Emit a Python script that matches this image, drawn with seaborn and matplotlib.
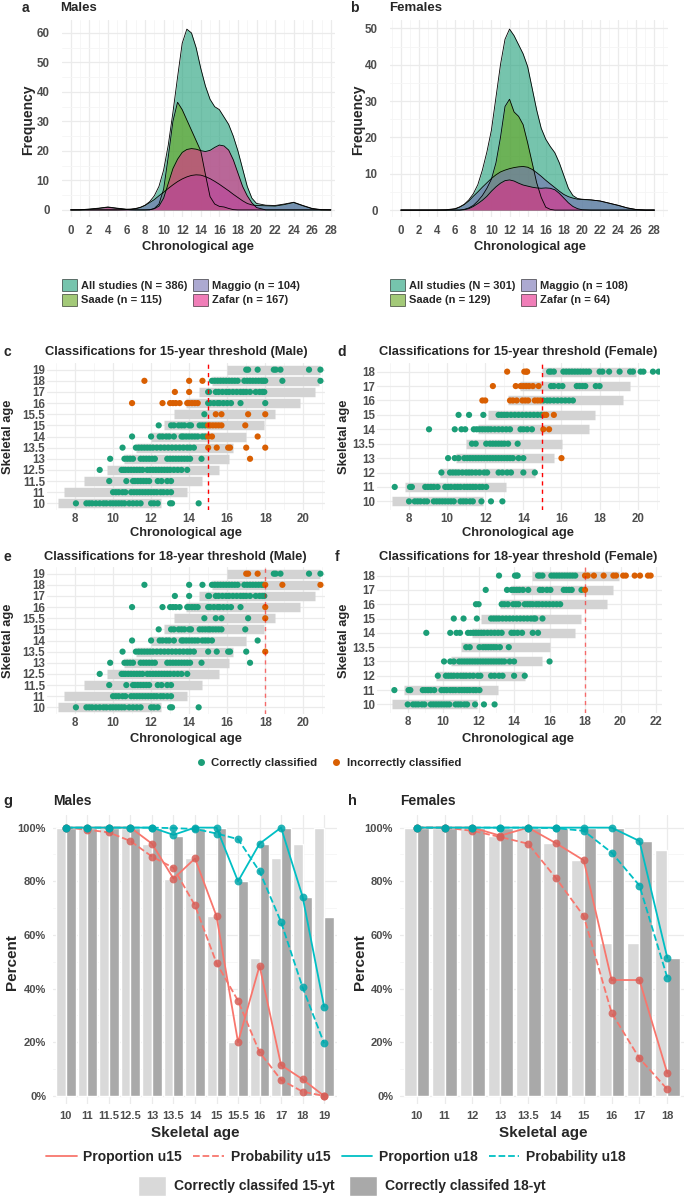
import numpy as np
import pandas as pd
import seaborn as sns
from matplotlib import pyplot as plt
from matplotlib.lines import Line2D
from matplotlib.patches import Patch
from matplotlib.ticker import MultipleLocator

age_grid = [0, 1, 2, 3, 4, 5, 6,
            6.5, 7, 7.5, 8, 8.5, 9, 9.5, 10, 10.5, 11, 11.5, 12, 12.5, 13, 13.5,
            14, 14.5, 15, 15.5, 16, 16.5, 17, 17.5, 18, 18.5, 19, 19.5, 20,
            21, 22, 23, 24, 25, 26, 27, 28]

male_all = [0, 0.05, 0.3, 0.6, 1.0, 0.6, 0.25,
            0.3, 0.5, 0.9, 1.6, 2.8, 4.8, 8, 13.5, 22, 33, 45, 56.5, 61.3, 60, 55,
            48, 42, 37.5, 35, 34, 31.5, 29, 25, 20, 14, 8, 4, 2.2,
            1.6, 1.5, 2, 2.6, 1.5, 0.5, 0.1, 0]
male_maggio = [0, 0, 0, 0, 0, 0, 0.1,
               0.2, 0.4, 0.8, 1.5, 2.5, 3.5, 4.8, 6, 7.3, 8.5, 9.6, 10.5, 11.2, 11.7, 11.9,
               11.8, 11.3, 10.6, 9.7, 8.7, 7.6, 6.5, 5.3, 4.2, 3.1, 2.2, 1.7, 1.5,
               1.4, 1.3, 1.8, 2.5, 1.4, 0.4, 0, 0]
male_saade = [0, 0, 0, 0, 0, 0, 0,
              0, 0, 0, 0, 0, 0.5, 2, 7, 18, 30, 36.5, 34, 30.5, 27, 23.5,
              20, 12, 4.5, 2, 1.2, 1, 0.5, 0.1, 0, 0, 0, 0, 0,
              0, 0, 0, 0, 0, 0, 0, 0]
male_zafar = [0, 0, 0.2, 0.5, 0.9, 0.5, 0.15,
              0.05, 0, 0, 0, 0.1, 0.4, 1.3, 4, 9, 14, 17.2, 19.5, 20.5, 20.8, 20.6,
              20.1, 19.8, 20.2, 21.2, 22, 21.7, 20.3, 17, 12.5, 8, 4.8, 2.4, 0.8,
              0, 0, 0, 0, 0, 0, 0, 0]

female_all = [0, 0, 0, 0, 0.02, 0.1, 0.4,
              0.9, 1.6, 2.8, 4.5, 7, 11, 16, 22, 31, 40, 47, 49.8, 48, 45.5, 43,
              39.5, 33.5, 27.5, 22.5, 19.5, 17.5, 15.8, 13, 9.5, 6, 4, 3.2, 3,
              2.8, 2.5, 1.9, 1.3, 0.6, 0.15, 0, 0]
female_maggio = [0, 0, 0, 0, 0, 0, 0.3,
                 0.8, 1.5, 2.5, 3.8, 5, 6.3, 7.5, 8.7, 9.7, 10.5, 11, 11.4, 11.7, 11.9, 12,
                 11.8, 11.2, 10.3, 9.3, 8.2, 7.2, 6.2, 5.2, 4.3, 3.7, 3.3, 3, 2.9,
                 2.8, 2.5, 1.9, 1.3, 0.6, 0.15, 0, 0]
female_saade = [0, 0, 0, 0, 0, 0, 0,
                0, 0.2, 0.6, 1.3, 2.5, 4, 6, 8.5, 13, 20, 28.5, 30.5, 27, 25.8, 23.5,
                18.5, 13, 7.5, 3.5, 0.8, 0.2, 0, 0, 0, 0, 0, 0, 0,
                0, 0, 0, 0, 0, 0, 0, 0]
female_zafar = [0, 0, 0, 0, 0, 0, 0,
                0, 0.1, 0.4, 1, 1.8, 2.7, 3.8, 5.2, 6.4, 7.4, 8.1, 8.3, 8, 7.4, 6.9,
                6.6, 6.3, 6.1, 6, 6.1, 6, 5.6, 4.6, 3.3, 2, 1, 0.4, 0.1,
                0, 0, 0, 0, 0, 0, 0, 0]

male_legend = ["All studies (N = 386)", "Saade (n = 115)", "Maggio (n = 104)", "Zafar (n = 167)"]
female_legend = ["All studies (N = 301)", "Saade (n = 129)", "Maggio (n = 108)", "Zafar (n = 64)"]

# ---------------- individual classifications (chronological age per skeletal age) ----------------
male_skeletal = ["10", "11", "11.5", "12.5", "13", "13.5", "14", "15", "15.5", "16", "17", "18", "19"]
m10 = [8.05, 8.6, 8.75, 8.9, 9.1, 9.3, 9.5, 9.65, 9.85, 10.0, 10.15, 10.3, 10.45, 10.6, 10.85,
       11.05, 11.25, 11.45, 12.0, 12.15, 12.35, 13.0, 13.1, 14.5]
m11 = [10.0, 10.15, 10.3, 10.5, 10.65, 10.95, 11.1, 11.25, 11.4, 11.55, 11.7, 11.85, 12.0,
       12.15, 12.3, 12.5, 12.65, 12.85, 13.05]
m11_5 = [9.8, 10.7, 11.05, 11.15, 11.3, 11.45, 11.6, 11.75, 11.9, 12.35, 12.55, 12.85, 13.05]
m12_5 = [9.3, 10.45, 10.55, 10.65, 10.8, 10.95, 11.1, 11.25, 11.4, 11.55, 11.8, 11.95, 12.1,
         12.25, 12.4, 12.55, 12.7, 12.85, 13.0, 13.2, 13.4, 13.6, 13.9]
m13 = [9.85, 10.6, 10.75, 10.9, 11.05, 11.45, 11.6, 11.75, 11.9, 12.05, 12.2, 12.85, 13.0,
       13.15, 13.3, 13.45, 13.6, 13.75, 13.9, 14.05, 14.65, 17.2]
m13_5 = [10.5, 11.2, 11.35, 11.5, 11.65, 11.8, 11.95, 12.1, 12.3, 12.5, 12.7, 12.9, 13.1,
         13.3, 13.5, 13.7, 13.9, 14.05, 14.25, 15.0, 15.45, 16.05, 16.15, 17.0, 18.0]
m14 = [11.0, 12.0, 12.45, 12.6, 12.8, 12.95, 13.2, 13.6, 13.7, 13.85, 14.0, 14.15, 14.3,
       14.45, 14.7, 14.85, 15.0, 15.2, 17.6]
m15 = [12.4, 13.05, 13.2, 13.45, 13.6, 13.75, 14.0, 14.1, 14.55, 14.7, 14.85, 15.0, 15.1,
       15.25, 15.4, 15.55, 15.7, 16.95]
m15_5 = [14.8, 15.4, 15.7, 17.1, 18.0]
m16 = [11.0, 12.6, 13.0, 13.15, 13.3, 13.5, 13.9, 14.0, 14.15, 14.3, 14.45, 15.0, 15.1, 15.3,
       15.5, 15.6, 15.8, 16.0, 16.2, 16.7, 18.0]
m17 = [13.25, 14.0, 15.0, 15.05, 15.4, 15.55, 15.75, 15.95, 16.1, 16.3, 16.5, 16.7, 16.85,
       17.0, 17.2, 17.5, 17.7, 17.85, 17.95]
m18 = [11.65, 14.0, 14.7, 15.2, 15.35, 15.5, 15.65, 15.8, 15.95, 16.1, 16.25, 16.4, 16.55,
       16.9, 17.05, 17.2, 17.35, 17.5, 17.65, 17.8, 17.9, 18.0, 18.9, 20.9]
m19 = [17.0, 17.1, 17.6, 18.45, 18.55, 18.8, 20.3, 20.9]
male_rows = [m10, m11, m11_5, m12_5, m13, m13_5, m14, m15, m15_5, m16, m17, m18, m19]
male_range_lo = [7.1, 7.4, 8.5, 9.7, 10.6, 11.2, 12.0, 12.7, 13.2, 13.85, 14.5, 15.2, 16.0]
male_range_hi = [12.5, 13.9, 14.65, 15.55, 16.1, 16.3, 17.0, 17.95, 18.5, 19.85, 20.6, 20.85, 20.9]

female_skeletal = ["10", "11", "12", "13", "13.5", "14", "15", "16", "17", "18"]
f10 = [8.0, 8.3, 8.45, 8.6, 8.8, 8.95, 9.3, 9.45, 9.6, 9.75, 9.9, 10.05, 10.2, 10.35, 10.7,
       10.85, 11.0, 11.2, 11.35, 11.8, 12.3, 12.9]
f11 = [7.25, 8.05, 8.15, 8.85, 9.0, 9.15, 9.3, 9.5, 9.9, 10.05, 10.2, 10.4, 10.55, 10.7, 10.9,
       11.05, 11.2, 11.35, 11.5, 11.7, 11.85, 12.05]
f12 = [9.7, 10.15, 10.3, 10.45, 10.6, 10.8, 11.0, 11.15, 11.3, 11.5, 11.7, 11.95, 12.1, 12.7,
       12.9, 13.15, 13.35, 14.0, 14.6]
f13 = [10.05, 10.4, 10.6, 10.9, 11.05, 11.2, 11.35, 11.5, 11.65, 11.8, 11.95, 12.1, 12.25,
       12.4, 12.55, 12.7, 12.85, 13.0, 13.15, 13.3, 13.45, 13.75, 14.0, 16.0]
f13_5 = [11.3, 11.5, 12.05, 12.25, 12.4, 12.55, 12.7, 12.85, 13.0, 13.2, 13.7]
f14 = [9.05, 10.4, 10.75, 10.95, 11.4, 11.55, 11.7, 11.85, 12.0, 12.15, 12.3, 12.5, 12.7,
       12.9, 13.1, 13.3, 13.85, 14.0, 14.2, 14.45, 15.05, 15.35]
f15 = [10.6, 11.15, 11.9, 12.7, 12.85, 13.0, 13.15, 13.35, 13.55, 13.75, 13.95, 14.15, 14.35,
       14.55, 14.75, 14.95, 15.1, 15.2, 15.6]
f16 = [11.85, 12.0, 13.3, 13.45, 13.65, 13.95, 14.1, 14.25, 14.6, 14.75, 14.9, 15.05, 15.25,
       15.4, 15.6, 15.8, 16.0, 16.2, 16.4, 16.6]
f17 = [12.4, 13.6, 13.85, 14.0, 14.15, 14.3, 14.5, 14.8, 15.45, 15.6, 15.85, 16.05, 16.8,
       16.95, 17.1, 17.25, 17.8, 18.0]
f18 = [13.15, 14.05, 14.15, 14.2, 15.35, 15.45, 15.6, 16.1, 16.25, 16.4, 16.55, 16.7, 16.85,
       17.0, 17.15, 17.3, 17.45, 18.0, 18.15, 18.5, 19.05, 19.6, 19.75, 20.15, 20.3, 20.8,
       21.1, 21.55, 21.7]
female_rows = [f10, f11, f12, f13, f13_5, f14, f15, f16, f17, f18]
female_range_lo = [7.1, 7.8, 9.6, 10.45, 11.0, 11.6, 12.15, 13.2, 13.8, 15.0]
female_range_hi = [11.9, 13.1, 14.6, 15.6, 16.05, 17.45, 17.75, 19.25, 19.6, 19.9]

# ---------------- percentages per skeletal age (panels g/h) ----------------
g_correct15 = [100, 100, 100, 100, 94, 81, 88.5, 67, 20, 51.5, 88.5, 94, 100]
g_correct18 = [100, 100, 100, 100, 100, 97, 100, 100, 80, 94, 100, 74.3, 66.7]
g_prop_u15 = [100, 100, 100, 100, 94, 81, 88.5, 67, 20, 48.5, 11.5, 6.2, 0]
g_prob_u15 = [100, 99.2, 98.2, 95, 89.2, 85, 71, 49.5, 35.5, 16.3, 6, 1.6, 0]
g_prop_u18 = [100, 100, 100, 100, 100, 97.3, 100, 100, 80, 94, 100, 74.3, 33.3]
g_prob_u18 = [100, 100, 100, 100, 100, 99.8, 99.5, 97.8, 95.7, 83.7, 64.8, 40.5, 19.6]

h_correct15 = [100, 100, 100, 97, 100, 94.2, 87.9, 57, 57, 91.5]
h_correct18 = [100, 100, 100, 100, 100, 100, 100, 100, 95, 51.5]
h_prop_u15 = [100, 100, 100, 97, 100, 94.2, 87.8, 43.2, 43.2, 8.5]
h_prob_u15 = [100, 100, 98.8, 96.5, 94, 81.2, 67, 31, 14, 2.5]
h_prop_u18 = [100, 100, 100, 100, 100, 100, 100, 100, 95, 51.5]
h_prob_u18 = [100, 100, 100, 100, 100, 99.8, 98.8, 90.7, 78.4, 44.1]

# ---------------- style ----------------
DENS_COLORS = ["#1B9E77", "#66A61E", "#7570B3", "#E7298A"]  # all, saade, maggio, zafar
OK_COL, BAD_COL = "#1B9E77", "#D95F02"
LIGHT, DARK = "#D9D9D9", "#A9A9A9"
RED, TEAL = "#F8766D", "#00BFC4"
RED_PT, TEAL_PT = "#D65F58", "#00A7AB"
TICK_COL = "#4D4D4D"
GRID_MAJ, GRID_MIN = "#EBEBEB", "#F5F5F5"

sns.set_theme(style="white")
plt.rcParams["font.family"] = ["Liberation Sans", "DejaVu Sans"]
plt.rcParams["font.weight"] = "bold"
plt.rcParams["axes.labelweight"] = "bold"

W, H = 685, 1201
fig = plt.figure(figsize=(W / 100, H / 100), dpi=100)


def px_axes(l, t, r, b):
    return fig.add_axes([l / W, 1 - b / H, (r - l) / W, (b - t) / H])


def ftext(x, y, s, **kw):
    kw.setdefault("fontweight", "bold")
    fig.text(x / W, 1 - y / H, s, **kw)


def style_axes(ax, labelsize, xpad, ypad):
    sns.despine(ax=ax, left=True, bottom=True)
    ax.set_axisbelow(True)
    ax.grid(True, which="major", color=GRID_MAJ, lw=0.9)
    ax.grid(True, which="minor", color=GRID_MIN, lw=0.6)
    ax.tick_params(which="both", length=0, labelsize=labelsize, labelcolor=TICK_COL)
    ax.tick_params(axis="x", pad=xpad)
    ax.tick_params(axis="y", pad=ypad)
    ax.set(xlabel="", ylabel="")


# ---------------- a / b: densities ----------------
def density_panel(ax, curves, labels, xlim, ylim, ymax):
    for vals, color in zip(curves, DENS_COLORS):
        ax.fill_between(age_grid, vals, color=color, alpha=0.6, lw=0, zorder=2)
    for vals in curves:
        sns.lineplot(x=age_grid, y=vals, color="black", lw=0.6, ax=ax, zorder=3)
    ax.set_xlim(xlim)
    ax.set_ylim(ylim)
    ax.set_xticks(range(0, 29, 2))
    ax.xaxis.set_minor_locator(MultipleLocator(1))
    ax.set_yticks(range(0, ymax + 1, 10))
    ax.yaxis.set_minor_locator(MultipleLocator(5))
    style_axes(ax, 8.3, 6, 9)
    handles = [Patch(facecolor=c, alpha=0.6, edgecolor="black", lw=0.6) for c in DENS_COLORS]
    ax.legend(handles, labels, ncol=2, loc="upper left", bbox_to_anchor=(-0.035, -0.265),
              frameon=False, fontsize=8, handlelength=1.3, handleheight=1.3,
              columnspacing=0.5, handletextpad=0.4, labelspacing=0.2)


ax_a = px_axes(62, 20, 335, 217)
density_panel(ax_a, [male_all, male_saade, male_maggio, male_zafar], male_legend,
              (-0.94, 28.45), (-2.4, 64.4), 60)
ax_b = px_axes(390, 20, 668, 217)
density_panel(ax_b, [female_all, female_saade, female_maggio, female_zafar], female_legend,
              (-1.2, 29.5), (-1.9, 52.3), 50)

ftext(22, 8, "a", fontsize=10, va="center")
ftext(60, 8, "Males", fontsize=9.5, va="center")
ftext(350, 8, "b", fontsize=10, va="center")
ftext(389, 8, "Females", fontsize=9.5, va="center")
ftext(28, 120, "Frequency", fontsize=10, rotation=90, ha="center", va="center")
ftext(358, 120, "Frequency", fontsize=10, rotation=90, ha="center", va="center")
ftext(198, 247, "Chronological age", fontsize=9.3, ha="center", va="center")
ftext(530, 247, "Chronological age", fontsize=9.3, ha="center", va="center")


# ---------------- c-f: classifications ----------------
def rows_frame(skeletal, rows):
    recs = []
    for i, (lab, chron) in enumerate(zip(skeletal, rows)):
        for c in chron:
            recs.append({"row": i, "skeletal": float(lab), "chron": c})
    return pd.DataFrame(recs)


male_df = rows_frame(male_skeletal, male_rows)
female_df = rows_frame(female_skeletal, female_rows)


def scatter_panel(ax, df, labels, lo, hi, thr, cut, xlim, xmax, line_alpha):
    n = len(labels)
    ax.hlines(range(n), lo, hi, color="#D3D3D3", lw=6.8, capstyle="butt", zorder=1)
    under = df["chron"] < thr
    pred_under = df["skeletal"] < cut
    d = df.assign(status=np.where(under == pred_under, "Correctly classified",
                                  "Incorrectly classified"))
    d = d.sort_values("status", kind="stable")
    sns.scatterplot(data=d, x="chron", y="row", hue="status",
                    hue_order=["Correctly classified", "Incorrectly classified"],
                    palette=[OK_COL, BAD_COL], s=20, linewidth=0, legend=False,
                    ax=ax, zorder=3)
    ax.axvline(thr, color="red", ls=(0, (3, 3)), lw=1.0, alpha=line_alpha, zorder=4)
    ax.set_xlim(xlim)
    ax.set_ylim(-0.6, n - 1 + 0.6)
    ax.set_xticks(range(8, xmax + 1, 2))
    ax.xaxis.set_minor_locator(MultipleLocator(1))
    ax.set_yticks(range(n))
    ax.set_yticklabels(labels)
    style_axes(ax, 8.3, 2, 1.5)
    ax.grid(False, which="minor", axis="y")


ax_c = px_axes(47, 363, 325, 510)
scatter_panel(ax_c, male_df, male_skeletal, male_range_lo, male_range_hi, 15, 16,
              (6.53, 21.14), 20, 1.0)
ax_d = px_axes(377, 363, 660, 510)
scatter_panel(ax_d, female_df, female_skeletal, female_range_lo, female_range_hi, 15, 16,
              (6.32, 21.17), 20, 1.0)
ax_e = px_axes(47, 567, 325, 714)
scatter_panel(ax_e, male_df, male_skeletal, male_range_lo, male_range_hi, 18, 19,
              (6.53, 21.14), 20, 0.55)
ax_f = px_axes(377, 567, 662, 713)
scatter_panel(ax_f, female_df, female_skeletal, female_range_lo, female_range_hi, 18, 19,
              (6.27, 22.34), 22, 0.55)

for x, y, s in [(3, 352, "c"), (337, 352, "d"), (3, 557, "e"), (335, 557, "f")]:
    ftext(x, y, s, fontsize=10, va="center")
ftext(176, 352, "Classifications for 15-year threshold (Male)", fontsize=9.3, ha="center", va="center")
ftext(518, 352, "Classifications for 15-year threshold (Female)", fontsize=9.3, ha="center", va="center")
ftext(175, 557, "Classifications for 18-year threshold (Male)", fontsize=9.3, ha="center", va="center")
ftext(518, 557, "Classifications for 18-year threshold (Female)", fontsize=9.3, ha="center", va="center")
for x, y in [(8, 437), (344, 437), (8, 641), (344, 641)]:
    ftext(x, y, "Skeletal age", fontsize=9.3, rotation=90, ha="center", va="center")
for x, y in [(186, 533), (518, 533), (186, 739), (518, 739)]:
    ftext(x, y, "Chronological age", fontsize=9.3, ha="center", va="center")

fig.legend([Line2D([], [], marker="o", ls="", color=OK_COL, markersize=4),
            Line2D([], [], marker="o", ls="", color=BAD_COL, markersize=4)],
           ["Correctly classified", "Incorrectly classified"],
           loc="center", bbox_to_anchor=(328 / W, 1 - 763 / H), ncol=2, frameon=False,
           fontsize=8.2, handlelength=1.0, handletextpad=0.4, columnspacing=1.2)


# ---------------- g / h: percentages ----------------
def percent_panel(ax, cats, c15, c18, p15, b15, p18, b18):
    n = len(cats)
    bars = pd.DataFrame({"skeletal": cats + cats, "pct": c15 + c18,
                         "set": ["15-yt"] * n + ["18-yt"] * n})
    sns.barplot(data=bars, x="skeletal", y="pct", hue="set", order=cats,
                hue_order=["15-yt", "18-yt"], palette=[LIGHT, DARK], width=0.9,
                saturation=1, legend=False, ax=ax, zorder=2)
    pos = np.arange(n)
    for vals, col, pcol, ls in [(p15, RED, RED_PT, "-"), (b15, RED, RED_PT, "--"),
                                (p18, TEAL, TEAL_PT, "-"), (b18, TEAL, TEAL_PT, "--")]:
        sns.lineplot(x=pos, y=vals, color=col, lw=1.3, linestyle=ls, ax=ax, zorder=4)
        ax.scatter(pos, vals, s=32, color=pcol, alpha=0.85, lw=0, zorder=5)
    ax.set_xlim(-0.6, n - 1 + 0.6)
    ax.set_ylim(-3.0, 104.7)
    ax.set_yticks(range(0, 101, 20))
    ax.set_yticklabels([f"{v}%" for v in range(0, 101, 20)])
    ax.yaxis.set_minor_locator(MultipleLocator(10))
    style_axes(ax, 8, 5, 5)
    ax.grid(False, which="minor", axis="x")


ax_g = px_axes(53, 815, 337, 1104)
percent_panel(ax_g, male_skeletal, g_correct15, g_correct18, g_prop_u15, g_prob_u15,
              g_prop_u18, g_prob_u18)
ax_h = px_axes(400, 815, 684, 1104)
percent_panel(ax_h, female_skeletal, h_correct15, h_correct18, h_prop_u15, h_prob_u15,
              h_prop_u18, h_prob_u18)

ftext(3, 801, "g", fontsize=10.5, va="center")
ftext(53, 801, "Males", fontsize=10, va="center")
ftext(348, 801, "h", fontsize=10.5, va="center")
ftext(400, 801, "Females", fontsize=10, va="center")
ftext(12, 962, "Percent", fontsize=11, rotation=90, ha="center", va="center")
ftext(360, 962, "Percent", fontsize=11, rotation=90, ha="center", va="center")
ftext(195, 1133, "Skeletal age", fontsize=11, ha="center", va="center")
ftext(543, 1133, "Skeletal age", fontsize=11, ha="center", va="center")

fig.legend([Line2D([], [], color=RED, lw=1.3), Line2D([], [], color=RED, lw=1.3, ls="--"),
            Line2D([], [], color=TEAL, lw=1.3), Line2D([], [], color=TEAL, lw=1.3, ls="--")],
           ["Proportion u15", "Probability u15", "Proportion u18", "Probability u18"],
           loc="center", bbox_to_anchor=(336 / W, 1 - 1157 / H), ncol=4, frameon=False,
           fontsize=10, handlelength=2.2, handletextpad=0.5, columnspacing=0.8)
fig.legend([Patch(facecolor=LIGHT), Patch(facecolor=DARK)],
           ["Correctly classifed 15-yt", "Correctly classifed 18-yt"],
           loc="center", bbox_to_anchor=(342 / W, 1 - 1186 / H), ncol=2, frameon=False,
           fontsize=10, handlelength=2.0, handleheight=1.9, handletextpad=0.6, columnspacing=1.0)

fig.savefig("out.png", dpi=100)
